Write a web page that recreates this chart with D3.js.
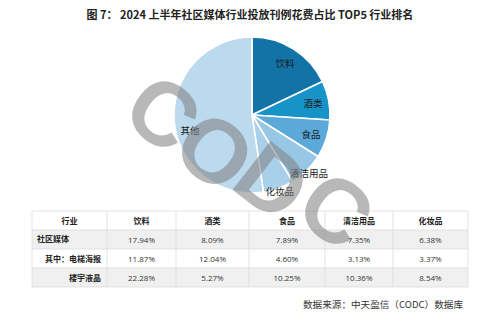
<!DOCTYPE html>
<html><head><meta charset="utf-8">
<script src="https://cdn.jsdelivr.net/npm/d3@7"></script>
<style>
body{margin:0;background:#fff;}
svg{display:block;font-family:"Noto Sans CJK SC","Liberation Sans",sans-serif;}
</style></head>
<body><svg id="c" width="500" height="323"></svg>
<script>
const categories = ["饮料","酒类","食品","清洁用品","化妆品","其他"];
const shareValues = [17.94, 8.09, 7.89, 7.35, 6.38, 52.35];
const sliceColors = ["#1373a6","#1793c8","#5aa9d9","#98c7e6","#a9d0ea","#bcdaee"];
const tableHeader = ["行业","饮料","酒类","食品","清洁用品","化妆品"];
const rowLabels = ["社区媒体","其中：电梯海报","楼宇液晶"];
const rowCommunity = ["17.94%","8.09%","7.89%","7.35%","6.38%"];
const rowElevator = ["11.87%","12.04%","4.60%","3.13%","3.37%"];
const rowLCD = ["22.28%","5.27%","10.25%","10.36%","8.54%"];
const titleText = "图 7：  2024 上半年社区媒体行业投放刊例花费占比 TOP5 行业排名";
const sourceText = "数据来源：中天盈信（CODC）数据库";
const watermarkLetters = ["C","O","D","C"];

const svg = d3.select("#c");
svg.append("rect").attr("width",500).attr("height",323).attr("fill","#fff");

svg.append("text").attr("x",250).attr("y",19).attr("text-anchor","middle")
  .attr("font-size",11).attr("font-weight","bold").attr("fill","#222").text(titleText);

// pie
const cx = 252, cy = 115, R = 78;
const pie = d3.pie().sort(null).value(d=>d.v);
const arcs = pie(categories.map((c,i)=>({c, v:shareValues[i], col:sliceColors[i]})));
const arc = d3.arc().innerRadius(0).outerRadius(R);
const g = svg.append("g").attr("transform",`translate(${cx},${cy})`);
g.selectAll("path").data(arcs).enter().append("path")
  .attr("d",arc).attr("fill",d=>d.data.col).attr("stroke","#fff").attr("stroke-width",1.6);

g.selectAll("text.lbl").data(arcs).enter().append("text")
  .attr("class","lbl")
  .attr("transform",d=>{
    let r = d.data.v >= 7.5 ? 62 : 81;
    let a = (d.startAngle+d.endAngle)/2;
    if (d.data.v > 50) { a -= 0.17; r = 64; }
    return `translate(${Math.sin(a)*r},${-Math.cos(a)*r})`;
  })
  .attr("text-anchor","middle").attr("dominant-baseline","central")
  .attr("font-size",9.5).attr("fill","#1a1a1a").text(d=>d.data.c);

// table
const colX = [32,107,176,249,325,393,468];
const rowY = [211,230,249,268,287];
const rows = [rowCommunity,rowElevator,rowLCD];
const tg = svg.append("g");
const rowFill = ["#ffffff","#f0f0f0","#ffffff","#f0f0f0"];
for (let r=0;r<4;r++){
  tg.append("rect").attr("x",colX[0]).attr("y",rowY[r]).attr("width",colX[6]-colX[0])
    .attr("height",rowY[r+1]-rowY[r]).attr("fill",rowFill[r]);
}
for (let r=0;r<5;r++){
  tg.append("line").attr("x1",colX[0]).attr("x2",colX[6]).attr("y1",rowY[r]).attr("y2",rowY[r])
    .attr("stroke","#dcdcdc").attr("stroke-width",0.8);
}
for (let c=0;c<7;c++){
  tg.append("line").attr("x1",colX[c]).attr("x2",colX[c]).attr("y1",rowY[0]).attr("y2",rowY[4])
    .attr("stroke","#dcdcdc").attr("stroke-width",0.8);
}
tableHeader.forEach((h,i)=>{
  tg.append("text").attr("x",(colX[i]+colX[i+1])/2).attr("y",(rowY[0]+rowY[1])/2)
    .attr("text-anchor","middle").attr("dominant-baseline","central")
    .attr("font-size",8).attr("font-weight","bold").attr("fill","#222").text(h);
});
rowLabels.forEach((l,r)=>{
  const t = tg.append("text").attr("y",(rowY[r+1]+rowY[r+2])/2 - (r===0?1.5:0))
    .attr("dominant-baseline","central").attr("font-size",8).attr("font-weight","bold").attr("fill","#222").text(l);
  if (r===0) t.attr("x",colX[0]+5).attr("text-anchor","start");
  else t.attr("x",colX[1]-6).attr("text-anchor","end");
  rows[r].forEach((v,i)=>{
    tg.append("text").attr("x",(colX[i+1]+colX[i+2])/2).attr("y",(rowY[r+1]+rowY[r+2])/2)
      .attr("text-anchor","middle").attr("dominant-baseline","central")
      .attr("font-size",8).attr("fill","#333").attr("font-family","'Open Sans','Liberation Sans',sans-serif").text(v);
  });
});

svg.append("text").attr("x",463).attr("y",308).attr("text-anchor","end")
  .attr("font-size",9.6).attr("fill","#333").text(sourceText);

// watermark: letters placed along a diagonal line
const wm = svg.append("g").attr("fill","#7d7d7d").attr("fill-opacity",0.55)
  .attr("font-family","'Liberation Sans',Arial,sans-serif").attr("font-weight","bold").attr("font-size",90);
const wmStart = [163,113], wmEnd = [336,210];
watermarkLetters.forEach((L,i)=>{
  const t = i/(watermarkLetters.length-1);
  let x = wmStart[0] + (wmEnd[0]-wmStart[0])*t;
  let y = wmStart[1] + (wmEnd[1]-wmStart[1])*t;
  if (i===1) { x -= 6; y += 6; }
  if (i===2) { x -= 6; y += 4; }
  wm.append("text").attr("transform",`translate(${x},${y}) rotate(38)`)
    .attr("text-anchor","middle").attr("dominant-baseline","central").text(L);
});
</script></body></html>
